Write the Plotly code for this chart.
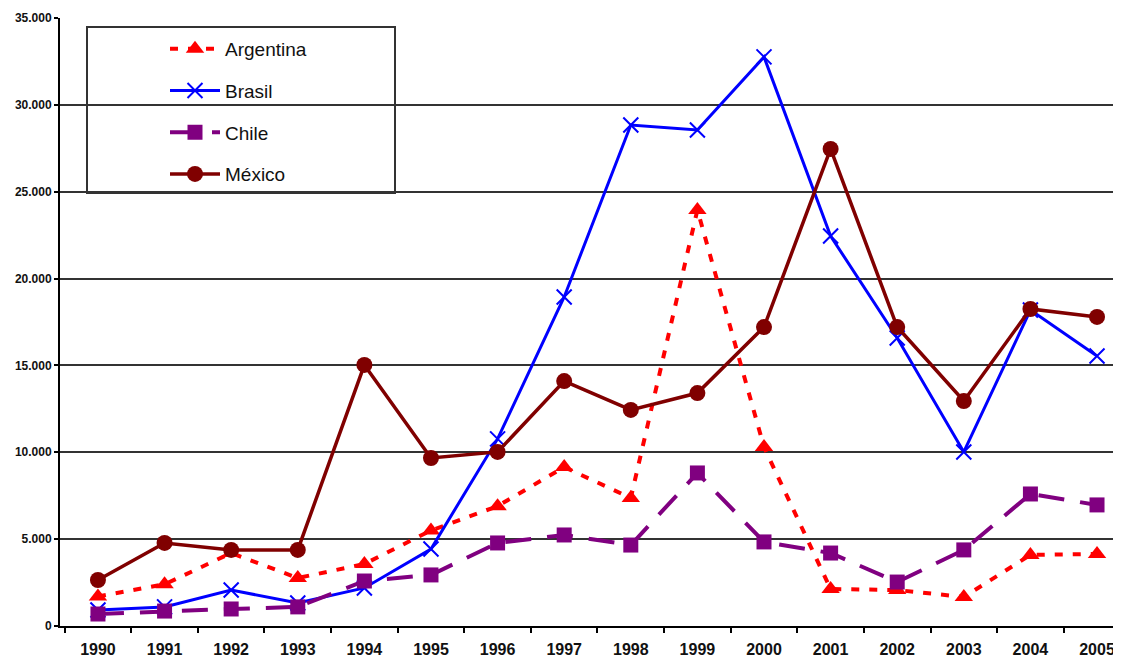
import plotly.graph_objects as go

years = [str(y) for y in range(1990, 2006)]
argentina = [1700, 2400, 4200, 2760, 3570, 5500, 6900, 9150, 7370, 23950, 10300, 2130, 2070, 1670, 4090, 4150]
brasil = [920, 1100, 2070, 1320, 2190, 4430, 10770, 18940, 28840, 28550, 32760, 22450, 16580, 10020, 18190, 15540]
chile = [690, 860, 980, 1100, 2590, 2940, 4780, 5240, 4660, 8810, 4840, 4200, 2530, 4380, 7600, 6970]
mexico = [2650, 4780, 4380, 4380, 15030, 9670, 10020, 14100, 12440, 13410, 17210, 27460, 17210, 12950, 18250, 17790]
y_ticks = [0, 5000, 10000, 15000, 20000, 25000, 30000, 35000]

fig = go.Figure()
fig.add_trace(go.Scatter(x=years, y=argentina, name="Argentina", mode="lines+markers",
                         line=dict(color="#ff0000", width=4, dash="8px,10px"),
                         marker=dict(symbol="triangle-up", size=16, color="#ff0000"),
                         legendgroup="a"))
fig.add_trace(go.Scatter(x=years, y=brasil, name="Brasil", mode="lines+markers",
                         line=dict(color="#0000ff", width=3),
                         marker=dict(symbol="x-thin", size=15, line=dict(color="#0000ff", width=2)),
                         legendgroup="b"))
fig.add_trace(go.Scatter(x=years, y=chile, name="Chile", mode="lines+markers",
                         line=dict(color="#800080", width=4, dash="26px,16px"),
                         marker=dict(symbol="square", size=15, color="#800080"),
                         legendgroup="c"))
fig.add_trace(go.Scatter(x=years, y=mexico, name="México", mode="lines+markers",
                         line=dict(color="#800000", width=3.5),
                         marker=dict(symbol="circle", size=16, color="#800000"),
                         legendgroup="d"))

W, H = 1113, 650  # page body adds an 8px offset
L, T, B = 52, 10, 32
PW, PH = W - L, H - T - B

def px_x(xp):
    return (xp - 8 - L) / PW

def px_y(yp):
    return (H - B - (yp - 8)) / PH

fig.update_layout(
    width=W, height=H,
    margin=dict(l=L, r=0, t=T, b=B, autoexpand=False),
    paper_bgcolor="white", plot_bgcolor="white",
    separators=",.",
    font=dict(family="Liberation Sans, Arial, sans-serif", color="black"),
    showlegend=True,
    legend=dict(x=px_x(165), y=px_y(30), xanchor="left", yanchor="top",
                bgcolor="rgba(0,0,0,0)", borderwidth=0,
                font=dict(size=19, color="#111111"),
                traceorder="grouped", tracegroupgap=14, itemwidth=50),
    xaxis=dict(type="category", range=[-0.57, 15.36], tickson="boundaries",
               ticks="outside", ticklen=5, tickcolor="black", tickwidth=2,
               showline=True, linecolor="black", linewidth=2, showgrid=False,
               ticklabelstandoff=8,
               tickfont=dict(size=16, color="#111111", weight="bold"), zeroline=False),
    yaxis=dict(range=[0, 35000], tickvals=y_ticks, tickformat=",d",
               ticks="outside", ticklen=4, tickcolor="black", tickwidth=2,
               showline=True, linecolor="black", linewidth=2,
               showgrid=True, gridcolor="#333333", gridwidth=1.5,
               tickfont=dict(size=12, color="#111111", weight="bold"), zeroline=False),
    shapes=[dict(type="rect", xref="paper", yref="paper",
                 x0=px_x(87), x1=px_x(395),
                 y0=px_y(193), y1=px_y(27),
                 line=dict(color="#333333", width=2), fillcolor="white", layer="below")],
)

fig.write_html("out.html")
